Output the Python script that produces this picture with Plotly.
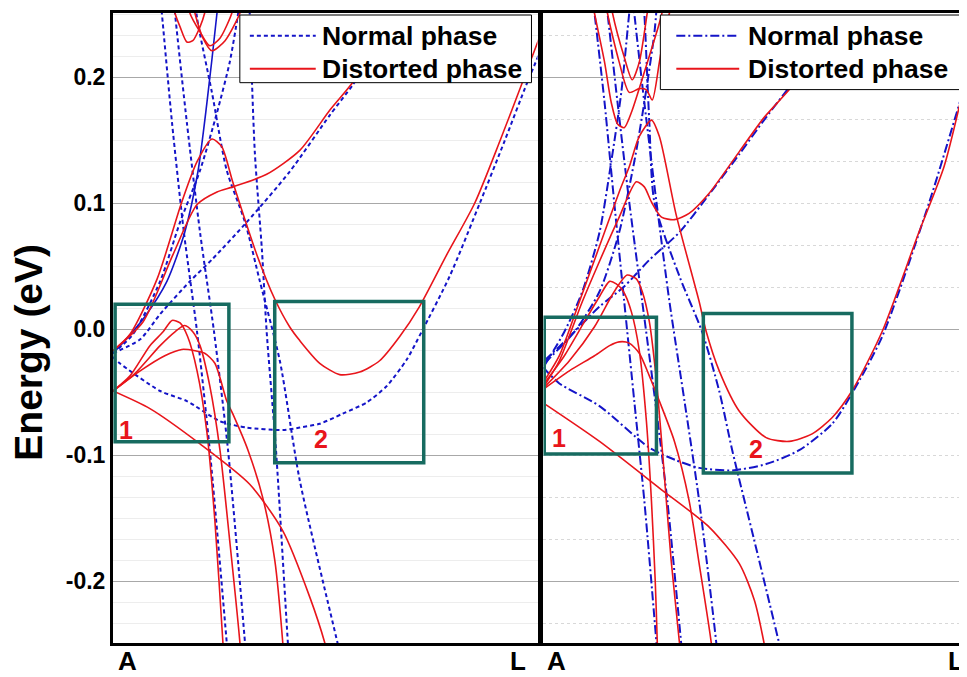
import plotly.graph_objects as go

# ---------------- data: k (A -> L, 0..1) and energy (eV) ----------------
# Left panel, distorted phase (red)
lr1_k = [0.0, 0.04, 0.104, 0.162, 0.198, 0.233, 0.256, 0.282, 0.339, 0.381, 0.416, 0.44, 0.487, 0.534, 0.581, 0.628, 0.675, 0.722, 0.786, 0.852, 0.911, 0.969, 1.005]
lr1_e = [-0.017, -0.004, 0.040, 0.101, 0.133, 0.151, 0.145, 0.117, 0.059, 0.024, 0.002, -0.009, -0.027, -0.036, -0.034, -0.025, -0.006, 0.018, 0.059, 0.100, 0.149, 0.200, 0.232]
lr2_k = [0.0, 0.071, 0.141, 0.198, 0.245, 0.282, 0.362, 0.44, 0.511, 0.565, 0.616]
lr2_e = [-0.017, 0.006, 0.059, 0.099, 0.109, 0.113, 0.123, 0.142, 0.174, 0.196, 0.224]
lr3_k = [0.0, 0.04, 0.087, 0.118, 0.139, 0.158, 0.176, 0.198, 0.221, 0.24, 0.259, 0.266]
lr3_e = [-0.049, -0.037, -0.013, -0.002, 0.007, 0.005, -0.006, -0.033, -0.081, -0.152, -0.249, -0.286]
lr4_k = [0.0, 0.052, 0.111, 0.146, 0.169, 0.188, 0.205, 0.228, 0.252, 0.275, 0.299, 0.306]
lr4_e = [-0.049, -0.035, -0.013, -0.002, 0.003, -0.002, -0.013, -0.045, -0.096, -0.168, -0.249, -0.286]
lr5_k = [0.0, 0.064, 0.122, 0.162, 0.193, 0.216, 0.24, 0.268, 0.282, 0.318, 0.353, 0.381, 0.4, 0.407]
lr5_e = [-0.049, -0.033, -0.021, -0.016, -0.017, -0.019, -0.027, -0.057, -0.067, -0.096, -0.134, -0.183, -0.249, -0.286]
lr6_k = [0.0, 0.087, 0.205, 0.322, 0.4, 0.464, 0.499, 0.511]
lr6_e = [-0.049, -0.063, -0.091, -0.123, -0.160, -0.213, -0.249, -0.266]
lr7_k = [0.141, 0.146, 0.158, 0.174, 0.188, 0.205, 0.216, 0.222]
lr7_e = [0.262, 0.251, 0.240, 0.228, 0.229, 0.240, 0.251, 0.262]
lr8_k = [0.176, 0.181, 0.205, 0.228, 0.252, 0.28, 0.286]
lr8_e = [0.262, 0.251, 0.236, 0.225, 0.231, 0.251, 0.262]
lr9_k = [0.188, 0.193, 0.212, 0.233, 0.264, 0.299, 0.306]
lr9_e = [0.262, 0.251, 0.231, 0.221, 0.229, 0.251, 0.262]

# Left panel, normal phase (blue dashed)
ln1_k = [0.0, 0.016, 0.111, 0.174, 0.252, 0.315, 0.4, 0.44, 0.487, 0.541, 0.598, 0.645, 0.692, 0.727, 0.793, 0.864, 0.922, 0.976, 1.016]
ln1_e = [-0.022, -0.027, -0.049, -0.057, -0.073, -0.078, -0.080, -0.078, -0.075, -0.067, -0.058, -0.045, -0.024, -0.002, 0.042, 0.100, 0.149, 0.196, 0.228]
ln2_k = [0.0, 0.064, 0.111, 0.181, 0.235, 0.315, 0.416, 0.511, 0.565, 0.616]
ln2_e = [-0.019, -0.008, 0.012, 0.038, 0.056, 0.085, 0.125, 0.170, 0.194, 0.220]
ln3_k = [0.0, 0.047, 0.111, 0.158, 0.205, 0.245, 0.275, 0.294, 0.299]
ln3_e = [-0.019, -0.004, 0.038, 0.085, 0.126, 0.172, 0.212, 0.249, 0.262]
ln4_k = [0.108, 0.115, 0.139, 0.167, 0.198, 0.228, 0.268, 0.275]
ln4_e = [0.275, 0.251, 0.164, 0.077, -0.002, -0.096, -0.249, -0.278]
ln5_k = [0.140, 0.146, 0.174, 0.205, 0.238, 0.271, 0.311, 0.318]
ln5_e = [0.275, 0.251, 0.164, 0.077, -0.002, -0.096, -0.249, -0.278]
ln6_k = [0.320, 0.322, 0.334, 0.351, 0.362, 0.384, 0.412, 0.418]
ln6_e = [0.275, 0.251, 0.141, 0.062, -0.002, -0.096, -0.249, -0.278]
ln7_k = [0.194, 0.198, 0.233, 0.268, 0.311, 0.346, 0.393, 0.44, 0.529, 0.54]
ln7_e = [0.262, 0.247, 0.188, 0.126, 0.085, 0.038, -0.025, -0.120, -0.249, -0.265]
# solid blue band
ls1_k = [0.0, 0.028, 0.075, 0.127, 0.169, 0.2, 0.221, 0.245, 0.249]
ls1_e = [-0.019, -0.009, 0.010, 0.038, 0.077, 0.125, 0.179, 0.251, 0.267]

# Right panel, distorted phase (red)
rr1_k = [0.002, 0.038, 0.093, 0.134, 0.181, 0.222, 0.241, 0.258, 0.282, 0.313, 0.348, 0.396, 0.468, 0.527, 0.587, 0.647]
rr1_e = [-0.045, -0.025, 0.022, 0.054, 0.089, 0.117, 0.113, 0.101, 0.089, 0.087, 0.092, 0.108, 0.141, 0.168, 0.190, 0.216]
rr2_k = [0.002, 0.038, 0.086, 0.134, 0.181, 0.205, 0.229, 0.258, 0.277, 0.317, 0.372, 0.389, 0.42, 0.468, 0.532, 0.587, 0.642, 0.69, 0.737, 0.809, 0.897, 0.957, 1.0]
rr2_e = [-0.041, -0.021, 0.022, 0.066, 0.109, 0.129, 0.153, 0.166, 0.153, 0.091, 0.022, -0.002, -0.033, -0.065, -0.086, -0.089, -0.083, -0.070, -0.049, -0.002, 0.077, 0.129, 0.186]
rr3_k = [0.002, 0.05, 0.098, 0.134, 0.158, 0.174, 0.191, 0.21, 0.229, 0.246, 0.258, 0.267, 0.272, 0.274]
rr3_e = [-0.043, -0.021, 0.006, 0.026, 0.038, 0.036, 0.030, 0.014, -0.017, -0.073, -0.136, -0.199, -0.249, -0.278]
rr4_k = [0.002, 0.062, 0.122, 0.162, 0.181, 0.2, 0.222, 0.236, 0.253, 0.27, 0.286, 0.305, 0.325, 0.332]
rr4_e = [-0.046, -0.025, 0.002, 0.026, 0.036, 0.043, 0.040, 0.030, 0.006, -0.041, -0.104, -0.183, -0.249, -0.278]
rr5_k = [0.002, 0.062, 0.122, 0.158, 0.181, 0.205, 0.229, 0.253, 0.277, 0.313, 0.348, 0.372, 0.401, 0.408]
rr5_e = [-0.047, -0.033, -0.021, -0.013, -0.010, -0.011, -0.019, -0.037, -0.057, -0.089, -0.136, -0.186, -0.249, -0.275]
rr6_k = [0.002, 0.134, 0.277, 0.396, 0.468, 0.504, 0.527, 0.535]
rr6_e = [-0.059, -0.089, -0.126, -0.157, -0.186, -0.215, -0.249, -0.265]
rr7_k = [0.117, 0.122, 0.146, 0.162, 0.177, 0.193, 0.21, 0.241, 0.277, 0.289]
rr7_e = [0.262, 0.251, 0.212, 0.180, 0.163, 0.160, 0.172, 0.204, 0.243, 0.259]
rr8_k = [0.160, 0.165, 0.193, 0.212, 0.229, 0.248, 0.253]
rr8_e = [0.262, 0.251, 0.216, 0.198, 0.212, 0.251, 0.262]
rr9_k = [0.150, 0.153, 0.181, 0.205, 0.229, 0.246, 0.26, 0.277, 0.291, 0.301, 0.305]
rr9_e = [0.262, 0.251, 0.212, 0.188, 0.191, 0.190, 0.182, 0.212, 0.240, 0.251, 0.262]

# Right panel, normal phase (blue dash-dot)
rn1_k = [0.0, 0.007, 0.038, 0.134, 0.253, 0.317, 0.372, 0.451, 0.532, 0.611, 0.69, 0.737, 0.809, 0.921, 1.0]
rn1_e = [-0.030, -0.033, -0.043, -0.061, -0.094, -0.104, -0.110, -0.112, -0.107, -0.096, -0.075, -0.051, -0.006, 0.100, 0.186]
rn2_k = [0.002, 0.062, 0.134, 0.193, 0.253, 0.325, 0.389, 0.468, 0.527, 0.587, 0.647]
rn2_e = [-0.025, -0.006, 0.018, 0.034, 0.055, 0.077, 0.104, 0.139, 0.166, 0.192, 0.218]
rn3_k = [0.002, 0.05, 0.093, 0.134, 0.162, 0.186, 0.205, 0.21]
rn3_e = [-0.029, -0.002, 0.030, 0.077, 0.133, 0.188, 0.251, 0.265]
rn4_k = [0.002, 0.074, 0.134, 0.181, 0.217, 0.241, 0.265, 0.272]
rn4_e = [-0.027, -0.002, 0.030, 0.077, 0.133, 0.180, 0.235, 0.262]
rn5_k = [0.118, 0.122, 0.146, 0.169, 0.193, 0.217, 0.241, 0.27, 0.276]
rn5_e = [0.262, 0.251, 0.180, 0.101, 0.022, -0.057, -0.136, -0.249, -0.275]
rn6_k = [0.149, 0.153, 0.177, 0.205, 0.236, 0.267, 0.296, 0.329, 0.336]
rn6_e = [0.262, 0.251, 0.180, 0.101, 0.022, -0.057, -0.136, -0.249, -0.275]
rn7_k = [0.214, 0.217, 0.241, 0.27, 0.301, 0.337, 0.372, 0.413, 0.42]
rn7_e = [0.262, 0.251, 0.180, 0.101, 0.022, -0.057, -0.136, -0.249, -0.275]
rn8_k = [0.238, 0.241, 0.253, 0.265, 0.325, 0.379, 0.42, 0.451, 0.504, 0.563, 0.572]
rn8_e = [0.262, 0.251, 0.164, 0.101, 0.042, -0.002, -0.049, -0.096, -0.168, -0.249, -0.262]

# Boxes (k0, k1, e0, e1) and labels
left_boxes = [(0.005, 0.273, -0.0893, 0.0198), (0.381, 0.732, -0.106, 0.0221)]
right_boxes = [(0.002, 0.27, -0.099, 0.0095), (0.382, 0.737, -0.114, 0.0126)]
box_labels = ["1", "2"]
y_ticks = [0.2, 0.1, 0.0, -0.1, -0.2]
y_tick_text = ["0.2", "0.1", "0.0", "-0.1", "-0.2"]
legend_names = ["Normal phase", "Distorted phase"]
k_labels = ["A", "L"]

RED = "#E8151B"
BLUE = "#1414C8"
TEAL = "#176B60"
FONT = "Liberation Sans, Arial, sans-serif"
DASH_L = "4px,3px"
DASH_R = "9px,3px,2px,3px"

left_red = [(lr1_k, lr1_e), (lr2_k, lr2_e), (lr3_k, lr3_e), (lr4_k, lr4_e), (lr5_k, lr5_e),
            (lr6_k, lr6_e), (lr7_k, lr7_e), (lr8_k, lr8_e), (lr9_k, lr9_e)]
left_blue = [(ln1_k, ln1_e), (ln2_k, ln2_e), (ln3_k, ln3_e), (ln4_k, ln4_e), (ln5_k, ln5_e),
             (ln6_k, ln6_e), (ln7_k, ln7_e)]
right_red = [(rr1_k, rr1_e), (rr2_k, rr2_e), (rr3_k, rr3_e), (rr4_k, rr4_e), (rr5_k, rr5_e),
             (rr6_k, rr6_e), (rr7_k, rr7_e), (rr8_k, rr8_e), (rr9_k, rr9_e)]
right_blue = [(rn1_k, rn1_e), (rn2_k, rn2_e), (rn3_k, rn3_e), (rn4_k, rn4_e), (rn5_k, rn5_e),
              (rn6_k, rn6_e), (rn7_k, rn7_e), (rn8_k, rn8_e)]

fig = go.Figure()

def add(k, e, xa, ya, color, dash, width, name):
    fig.add_trace(go.Scatter(
        x=k, y=e, xaxis=xa, yaxis=ya, mode="lines",
        line=dict(color=color, dash=dash, width=width, shape="spline", smoothing=0.7),
        name=name, showlegend=False, hoverinfo="skip"))

for k, e in left_blue:
    add(k, e, "x", "y", BLUE, DASH_L, 2, legend_names[0])
add(ls1_k, ls1_e, "x", "y", BLUE, "solid", 1.6, legend_names[0])
for k, e in left_red:
    add(k, e, "x", "y", RED, "solid", 1.6, legend_names[1])
for k, e in right_blue:
    add(k, e, "x2", "y2", BLUE, DASH_R, 2, legend_names[0])
for k, e in right_red:
    add(k, e, "x2", "y2", RED, "solid", 1.6, legend_names[1])

shapes = []
annotations = []
for (xr, yr, boxes) in [("x", "y", left_boxes), ("x2", "y2", right_boxes)]:
    for (k0, k1, e0, e1) in boxes:
        shapes.append(dict(type="rect", xref=xr, yref=yr, x0=k0, x1=k1, y0=e0, y1=e1,
                           line=dict(color=TEAL, width=3.5), layer="above"))

label_pos = [("x", "y", 0.031, -0.080), ("x", "y", 0.489, -0.087),
             ("x2", "y2", 0.038, -0.086), ("x2", "y2", 0.508, -0.095)]
for idx, (xr, yr, kx, ey) in enumerate(label_pos):
    annotations.append(dict(text="<b>%s</b>" % box_labels[idx % 2], xref=xr, yref=yr, x=kx, y=ey,
                            showarrow=False, font=dict(family=FONT, size=25, color=RED)))

# Legends (drawn as framed boxes in paper coordinates)
legend_specs = [
    # box x0, x1, y0, y1, sample x0, x1, text x, dash
    (0.1494, 0.4929, 0.8894, 0.9968, 0.1612, 0.2388, 0.2435, DASH_L),
    (0.6447, 0.9985, 0.8784, 0.9968, 0.6635, 0.7376, 0.7450, DASH_R),
]
row_y = [0.9637, 0.9115]
for (bx0, bx1, by0, by1, sx0, sx1, tx, dsh) in legend_specs:
    shapes.append(dict(type="rect", xref="paper", yref="paper", x0=bx0, x1=bx1, y0=by0, y1=by1,
                       fillcolor="white", line=dict(color="black", width=1), layer="above"))
    for r, (nm, col, dd) in enumerate([(legend_names[0], BLUE, dsh), (legend_names[1], RED, "solid")]):
        shapes.append(dict(type="line", xref="paper", yref="paper", x0=sx0, x1=sx1,
                           y0=row_y[r], y1=row_y[r], line=dict(color=col, width=2, dash=dd),
                           layer="above"))
        annotations.append(dict(text="<b>%s</b>" % nm, xref="paper", yref="paper", x=tx, y=row_y[r],
                                xanchor="left", yanchor="middle", showarrow=False,
                                font=dict(family=FONT, size=26.5, color="black")))

for (txt, px) in [(k_labels[0], 0.0175), (k_labels[1], 0.4765), (k_labels[0], 0.5225), (k_labels[1], 0.9935)]:
    annotations.append(dict(text="<b>%s</b>" % txt, xref="paper", yref="paper", x=px, y=-0.028,
                            showarrow=False, font=dict(family=FONT, size=26, color="black"),
                            xanchor="center", yanchor="middle"))

annotations.append(dict(text="<b>Energy (eV)</b>", xref="paper", yref="paper", x=-0.1, y=0.461,
                        textangle=-90, showarrow=False, xanchor="center", yanchor="middle",
                        font=dict(family=FONT, size=39, color="black")))

common_x = dict(range=[0, 1], showgrid=False, zeroline=False, showticklabels=False, ticks="",
                showline=True, mirror=True, linecolor="black", linewidth=3)
yr = [-0.249, 0.251]

# page body has an 8px margin: figure is sized/offset so the plot lands where the reference has it
fig.update_layout(
    width=959, height=669,
    margin=dict(l=105, r=4, t=2, b=34),
    paper_bgcolor="white", plot_bgcolor="white",
    showlegend=False,
    xaxis=dict(domain=[0, 0.5], **common_x),
    xaxis2=dict(domain=[0.507, 1.0], **common_x),
    yaxis=dict(range=yr, anchor="x", tickvals=y_ticks, ticktext=y_tick_text, ticks="",
               tickfont=dict(family=FONT, size=23, color="black", weight="bold"),
               showgrid=True, gridcolor="#A8A8A8", gridwidth=1, zeroline=False,
               showline=True, mirror=True, linecolor="black", linewidth=3,
               minor=dict(dtick=1/60, tick0=0, showgrid=True, gridcolor="#EDEDED", gridwidth=1)),
    yaxis2=dict(range=yr, anchor="x2", tick0=0, dtick=0.2, showticklabels=False, ticks="",
                showgrid=True, gridcolor="#A8A8A8", gridwidth=1, zeroline=False,
                showline=True, mirror=True, linecolor="black", linewidth=3,
                minor=dict(dtick=1/30, tick0=0, showgrid=True, gridcolor="#D8D8D8",
                           griddash="dot", gridwidth=1)),
    shapes=shapes,
    annotations=annotations,
)

fig.write_html("out.html")
